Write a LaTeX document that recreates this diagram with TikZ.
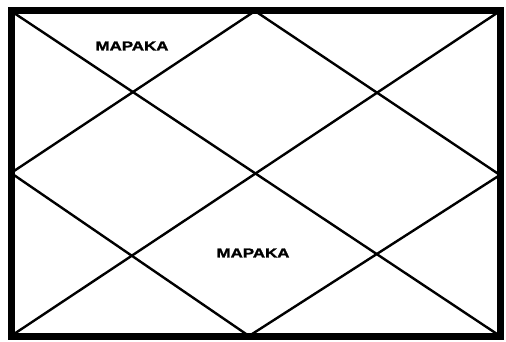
\documentclass[tikz,border=0pt]{standalone}
\usepackage{fontspec}
\setmainfont{Liberation Sans}
\newfontface\heavy{Liberation Sans Bold}[FakeBold=1.6]
\usepackage{graphicx}
\tikzset{
  chartline/.style={line width=2.4pt},
  house/.style={font=\fontsize{13}{15}\heavy},
}
\newcommand{\wide}[1]{\scalebox{1.3}[1]{#1}}
\begin{document}
\begin{tikzpicture}[x=1pt,y=-1pt]
    \useasboundingbox (0,0) rectangle (506,342);
    \coordinate (tl) at (11,11);
    \coordinate (tr) at (500,11);
    \coordinate (bl) at (11,336);
    \coordinate (br) at (500,336);
    \coordinate (tm) at (255,11);
    \coordinate (bm) at (249,336);
    \coordinate (lm) at (11,173);
    \coordinate (rm) at (500,175);
    \draw[chartline] (tl) -- (br);
    \draw[chartline] (tr) -- (bl);
    \draw[chartline] (tm) -- (lm) -- (bm) -- (rm) -- cycle;
    \draw[line width=7pt] (tl) rectangle (br);
    \node[house] (mapaka1) at (132,46) {\wide{MAPAKA}};
    \node[house] (mapaka2) at (253,253) {\wide{MAPAKA}};
  \end{tikzpicture}
\end{document}
